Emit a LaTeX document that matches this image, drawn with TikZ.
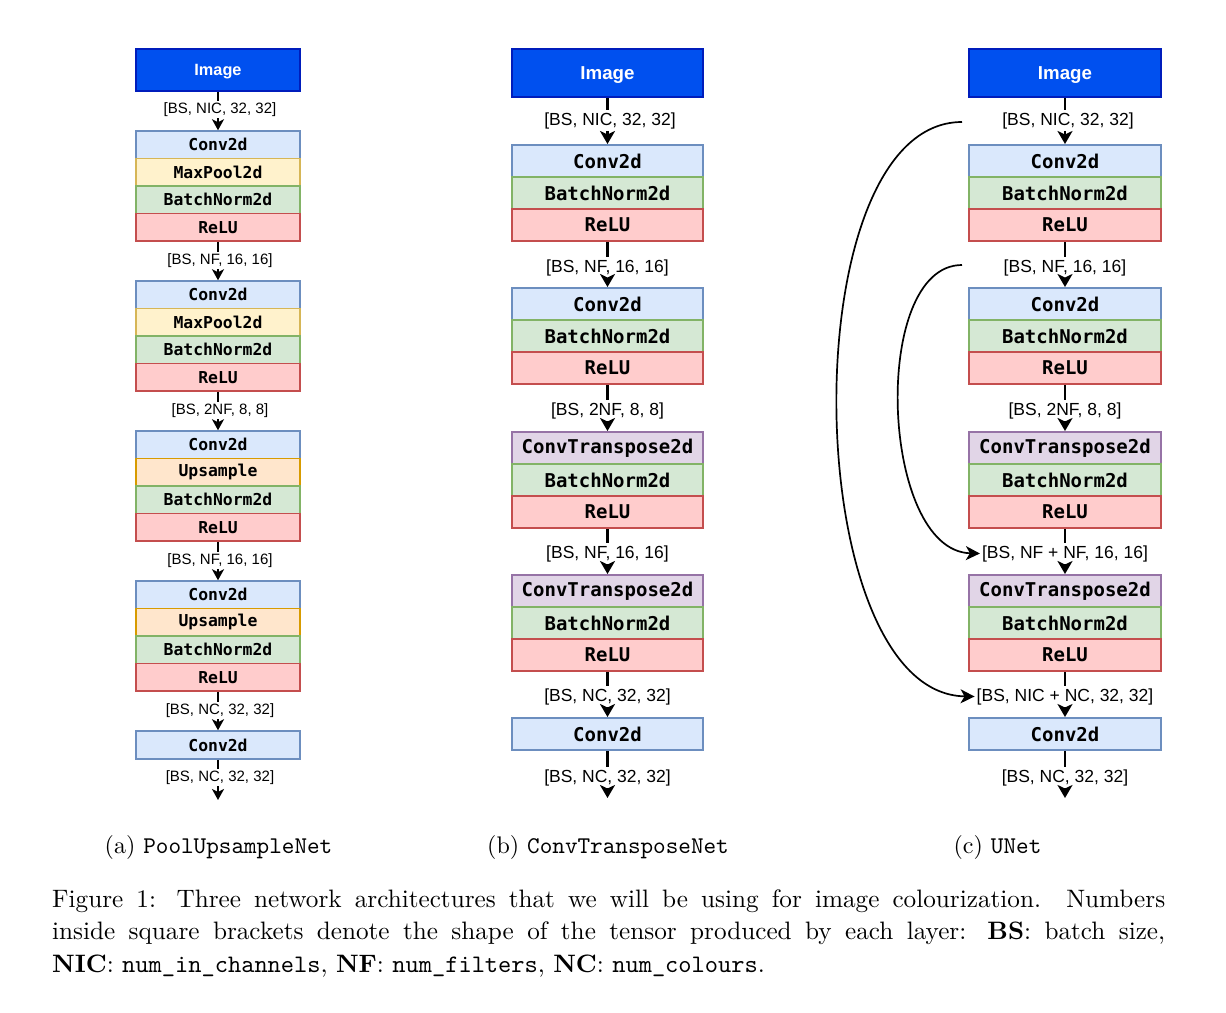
\documentclass[tikz,border=0pt]{standalone}
\usepackage{fontspec}
\setmainfont{lmroman10}[Extension=.otf, UprightFont=*-regular, BoldFont=*-bold, ItalicFont=*-italic, BoldItalicFont=*-bolditalic]
\setmonofont{lmmono10}[Extension=.otf, UprightFont=*-regular, BoldFont=*-regular, ItalicFont=*-italic, BoldItalicFont=*-italic]
\newfontfamily\lblfont{Liberation Sans}
\newfontfamily\layfont{DejaVu Sans Mono}
\usetikzlibrary{arrows.meta}
\definecolor{cvF}{HTML}{DAE8FC}\definecolor{cvD}{HTML}{6C8EBF}
\definecolor{mpF}{HTML}{FFF2CC}\definecolor{mpD}{HTML}{D6B656}
\definecolor{bnF}{HTML}{D5E8D4}\definecolor{bnD}{HTML}{82B366}
\definecolor{reF}{HTML}{FFCCCC}\definecolor{reD}{HTML}{C44E4E}
\definecolor{upF}{HTML}{FFE6CC}\definecolor{upD}{HTML}{D79B00}
\definecolor{ctF}{HTML}{E1D5E7}\definecolor{ctD}{HTML}{9673A6}
\definecolor{imF}{HTML}{0050EF}\definecolor{imD}{HTML}{001DBC}
\tikzset{
  boxA/.style={draw, line width=1.5pt, inner sep=0pt, minimum width=164pt, minimum height=27.5pt,
    font={\layfont\bfseries\fontsize{16.4}{16.4}\selectfont}},
  boxB/.style={draw, line width=2pt, inner sep=0pt, minimum width=191pt, minimum height=32pt,
    font={\layfont\bfseries\fontsize{19}{19}\selectfont}},
  cv/.style={fill=cvF, draw=cvD},
  mp/.style={fill=mpF, draw=mpD},
  bn/.style={fill=bnF, draw=bnD},
  re/.style={fill=reF, draw=reD},
  up/.style={fill=upF, draw=upD},
  ct/.style={fill=ctF, draw=ctD},
  imgA/.style={draw=imD, fill=imF, text=white, line width=1.5pt, inner sep=0pt, minimum width=164pt, minimum height=42pt,
    text depth=0pt, font={\lblfont\bfseries\fontsize{16.3}{16.3}\selectfont}},
  imgB/.style={draw=imD, fill=imF, text=white, line width=2pt, inner sep=0pt, minimum width=191pt, minimum height=48pt,
    text depth=0pt, font={\lblfont\bfseries\fontsize{18.7}{18.7}\selectfont}},
  lblA/.style={inner sep=1.5pt, font={\lblfont\fontsize{15}{15}\selectfont}},
  lblB/.style={inner sep=2pt, font={\lblfont\fontsize{17.5}{17.5}\selectfont}},
  lineA/.style={line width=2.2pt},
  arrA/.style={line width=2.2pt, -{Stealth[length=11pt,width=12pt,inset=3pt]}},
  lineB/.style={line width=2.7pt},
  arrB/.style={line width=2.7pt, -{Stealth[length=13pt,width=15pt,inset=3.5pt]}},
  curv/.style={line width=1.7pt, -{Stealth[length=14pt,width=14pt,inset=4pt]}},
  subcap/.style={inner sep=0pt, anchor=base, font={\fontsize{24}{29}\selectfont}}
}
\begin{document}
\begin{tikzpicture}[x=1pt,y=-1pt]
\useasboundingbox (0,0) rectangle (1226,1012);
\fill[white] (0,0) rectangle (1226,1012);

% ---------------- (a) PoolUpsampleNet ----------------
\node[imgA] (ia) at (218,70) {Image};
\node[boxA,cv] (a1c) at (218,144.75) {Conv2d};
\node[boxA,mp] (a1p) at (218,172.25) {MaxPool2d};
\node[boxA,bn] (a1b) at (218,199.75) {BatchNorm2d};
\node[boxA,re] (a1r) at (218,227.25) {ReLU};
\node[boxA,cv] (a2c) at (218,294.75) {Conv2d};
\node[boxA,mp] (a2p) at (218,322.25) {MaxPool2d};
\node[boxA,bn] (a2b) at (218,349.75) {BatchNorm2d};
\node[boxA,re] (a2r) at (218,377.25) {ReLU};
\node[boxA,cv] (a3c) at (218,444.75) {Conv2d};
\node[boxA,up] (a3u) at (218,472.25) {Upsample};
\node[boxA,bn] (a3b) at (218,499.75) {BatchNorm2d};
\node[boxA,re] (a3r) at (218,527.25) {ReLU};
\node[boxA,cv] (a4c) at (218,594.75) {Conv2d};
\node[boxA,up] (a4u) at (218,622.25) {Upsample};
\node[boxA,bn] (a4b) at (218,649.75) {BatchNorm2d};
\node[boxA,re] (a4r) at (218,677.25) {ReLU};
\node[boxA,cv,minimum height=28pt] (a5c) at (218,745) {Conv2d};
\node[lblA] (la1) at (220,109.5) {[BS, NIC, 32, 32]};
\node[lblA] (la2) at (220,260.5) {[BS, NF, 16, 16]};
\node[lblA] (la3) at (220,410.5) {[BS, 2NF, 8, 8]};
\node[lblA] (la4) at (220,560.5) {[BS, NF, 16, 16]};
\node[lblA] (la5) at (220,710.5) {[BS, NC, 32, 32]};
\node[lblA] (la6) at (220,777.5) {[BS, NC, 32, 32]};
\coordinate (ea) at (218,800);
\draw[lineA] (ia.south) -- (ia.south |- la1.north);
\draw[arrA] (a1c.north |- la1.south) -- (a1c.north);
\draw[lineA] (a1r.south) -- (a1r.south |- la2.north);
\draw[arrA] (a2c.north |- la2.south) -- (a2c.north);
\draw[lineA] (a2r.south) -- (a2r.south |- la3.north);
\draw[arrA] (a3c.north |- la3.south) -- (a3c.north);
\draw[lineA] (a3r.south) -- (a3r.south |- la4.north);
\draw[arrA] (a4c.north |- la4.south) -- (a4c.north);
\draw[lineA] (a4r.south) -- (a4r.south |- la5.north);
\draw[arrA] (a5c.north |- la5.south) -- (a5c.north);
\draw[lineA] (a5c.south) -- (a5c.south |- la6.north);
\draw[arrA] (ea |- la6.south) -- (ea);

% ---------------- (b) ConvTransposeNet ----------------
\node[imgB] (ib) at (607.5,73) {Image};
\node[boxB,cv] (b1c) at (607.5,161) {Conv2d};
\node[boxB,bn] (b1b) at (607.5,193) {BatchNorm2d};
\node[boxB,re] (b1r) at (607.5,225) {ReLU};
\node[boxB,cv] (b2c) at (607.5,304) {Conv2d};
\node[boxB,bn] (b2b) at (607.5,336) {BatchNorm2d};
\node[boxB,re] (b2r) at (607.5,368) {ReLU};
\node[boxB,ct] (b3t) at (607.5,448) {ConvTranspose2d};
\node[boxB,bn] (b3b) at (607.5,480) {BatchNorm2d};
\node[boxB,re] (b3r) at (607.5,512) {ReLU};
\node[boxB,ct] (b4t) at (607.5,591) {ConvTranspose2d};
\node[boxB,bn] (b4b) at (607.5,623) {BatchNorm2d};
\node[boxB,re] (b4r) at (607.5,655) {ReLU};
\node[boxB,cv] (b5c) at (607.5,734) {Conv2d};
\node[lblB] (lb1) at (610,120.5) {[BS, NIC, 32, 32]};
\node[lblB] (lb2) at (607.5,267.5) {[BS, NF, 16, 16]};
\node[lblB] (lb3) at (607.5,410.5) {[BS, 2NF, 8, 8]};
\node[lblB] (lb4) at (607.5,553.5) {[BS, NF, 16, 16]};
\node[lblB] (lb5) at (607.5,696.5) {[BS, NC, 32, 32]};
\node[lblB] (lb6) at (607.5,777.5) {[BS, NC, 32, 32]};
\coordinate (eb) at (607.5,798);
\draw[lineB] (ib.south) -- (ib.south |- lb1.north);
\draw[arrB] (b1c.north |- lb1.south) -- (b1c.north);
\draw[lineB] (b1r.south) -- (b1r.south |- lb2.north);
\draw[arrB] (b2c.north |- lb2.south) -- (b2c.north);
\draw[lineB] (b2r.south) -- (b2r.south |- lb3.north);
\draw[arrB] (b3t.north |- lb3.south) -- (b3t.north);
\draw[lineB] (b3r.south) -- (b3r.south |- lb4.north);
\draw[arrB] (b4t.north |- lb4.south) -- (b4t.north);
\draw[lineB] (b4r.south) -- (b4r.south |- lb5.north);
\draw[arrB] (b5c.north |- lb5.south) -- (b5c.north);
\draw[lineB] (b5c.south) -- (b5c.south |- lb6.north);
\draw[arrB] (eb |- lb6.south) -- (eb);

% ---------------- (c) UNet ----------------
\node[imgB,minimum width=192pt] (ic) at (1065,73) {Image};
\node[boxB,cv,minimum width=192pt] (c1c) at (1065,161) {Conv2d};
\node[boxB,bn,minimum width=192pt] (c1b) at (1065,193) {BatchNorm2d};
\node[boxB,re,minimum width=192pt] (c1r) at (1065,225) {ReLU};
\node[boxB,cv,minimum width=192pt] (c2c) at (1065,304) {Conv2d};
\node[boxB,bn,minimum width=192pt] (c2b) at (1065,336) {BatchNorm2d};
\node[boxB,re,minimum width=192pt] (c2r) at (1065,368) {ReLU};
\node[boxB,ct,minimum width=192pt] (c3t) at (1065,448) {ConvTranspose2d};
\node[boxB,bn,minimum width=192pt] (c3b) at (1065,480) {BatchNorm2d};
\node[boxB,re,minimum width=192pt] (c3r) at (1065,512) {ReLU};
\node[boxB,ct,minimum width=192pt] (c4t) at (1065,591) {ConvTranspose2d};
\node[boxB,bn,minimum width=192pt] (c4b) at (1065,623) {BatchNorm2d};
\node[boxB,re,minimum width=192pt] (c4r) at (1065,655) {ReLU};
\node[boxB,cv,minimum width=192pt] (c5c) at (1065,734) {Conv2d};
\node[lblB] (lc1) at (1068,120.5) {[BS, NIC, 32, 32]};
\node[lblB] (lc2) at (1065,267.5) {[BS, NF, 16, 16]};
\node[lblB] (lc3) at (1065,410.5) {[BS, 2NF, 8, 8]};
\node[lblB] (lc4) at (1065,553.5) {[BS, NF + NF, 16, 16]};
\node[lblB] (lc5) at (1065,696.5) {[BS, NIC + NC, 32, 32]};
\node[lblB] (lc6) at (1065,777.5) {[BS, NC, 32, 32]};
\coordinate (ec) at (1065,798);
\draw[lineB] (ic.south) -- (ic.south |- lc1.north);
\draw[arrB] (c1c.north |- lc1.south) -- (c1c.north);
\draw[lineB] (c1r.south) -- (c1r.south |- lc2.north);
\draw[arrB] (c2c.north |- lc2.south) -- (c2c.north);
\draw[lineB] (c2r.south) -- (c2r.south |- lc3.north);
\draw[arrB] (c3t.north |- lc3.south) -- (c3t.north);
\draw[lineB] (c3r.south) -- (c3r.south |- lc4.north);
\draw[arrB] (c4t.north |- lc4.south) -- (c4t.north);
\draw[lineB] (c4r.south) -- (c4r.south |- lc5.north);
\draw[arrB] (c5c.north |- lc5.south) -- (c5c.north);
\draw[lineB] (c5c.south) -- (c5c.south |- lc6.north);
\draw[arrB] (ec |- lc6.south) -- (ec);
% skip connections
\coordinate (s1) at (962,122);
\coordinate (s2) at (962,265);
\draw[curv] (s1) .. controls (790,122) and (798,694) .. (lc5.west);
\draw[curv] (s2) .. controls (870,265) and (880,551) .. (lc4.west);

% ---------------- captions ----------------
\node[subcap] (sa) at (218.5,853) {(a) \texttt{PoolUpsampleNet}};
\node[subcap] (sb) at (608,853) {(b) \texttt{ConvTransposeNet}};
\node[subcap] (sc) at (997.5,853) {(c) \texttt{UNet}};
\node[anchor=north west, inner sep=0pt, align=left, font={\fontsize{25.2}{32.5}\selectfont}] (cap) at (52,889.2)
{\makebox[1113pt][s]{Figure 1: Three network architectures that we will be using for image colourization. Numbers}\\
 \makebox[1113pt][s]{inside square brackets denote the shape of the tensor produced by each layer: \textbf{BS}: batch size,}\\
 \textbf{NIC}: \texttt{num\_in\_channels}, \textbf{NF}: \texttt{num\_filters}, \textbf{NC}: \texttt{num\_colours}.};
\end{tikzpicture}
\end{document}
